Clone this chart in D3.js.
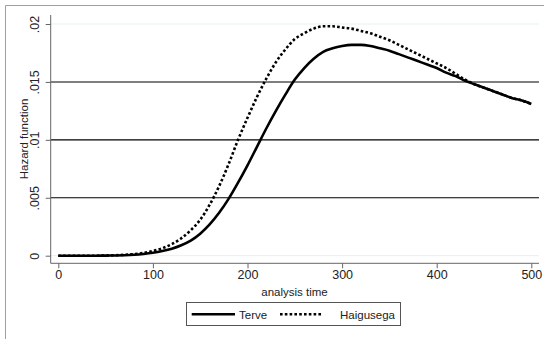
<!DOCTYPE html>
<html><head><meta charset="utf-8">
<script src="https://cdn.jsdelivr.net/npm/d3@7"></script>
<style>body{margin:0;background:#fff}svg{display:block;font-family:"Liberation Sans",Arial,sans-serif}</style>
</head><body><svg id="c" width="544" height="339"></svg>
<script>
const times = [0,10,20,30,40,50,60,70,80,90,100,110,120,130,140,150,160,170,180,190,200,210,220,230,240,250,260,270,280,290,300,310,320,330,340,350,360,370,380,390,400,410,420,430,440,450,460,470,480,490,500];
const terve = [0,0,0,0,0,0.00001,0.00002,0.00004,0.00008,0.00015,0.00025,0.0004,0.0006,0.0009,0.0013,0.0019,0.0027,0.0037,0.0049,0.0063,0.0078,0.0094,0.011,0.0125,0.0139,0.0152,0.0162,0.017,0.0176,0.0179,0.0181,0.0182,0.0182,0.0181,0.0179,0.0177,0.0174,0.0171,0.0168,0.0165,0.0162,0.0158,0.0155,0.0151,0.0148,0.0145,0.0142,0.0139,0.0136,0.0134,0.0131];
const haigusega = [0,0,0,0,0,0.00002,0.00004,0.00008,0.00014,0.00024,0.0004,0.00065,0.001,0.0015,0.0022,0.0031,0.0044,0.006,0.0079,0.01,0.0119,0.0137,0.0153,0.0167,0.0178,0.0187,0.0192,0.0196,0.0198,0.0198,0.0197,0.0196,0.0194,0.0192,0.0189,0.0186,0.0182,0.0178,0.0174,0.017,0.0166,0.0162,0.0157,0.0152,0.0148,0.0145,0.0142,0.0139,0.0136,0.0134,0.0131];
const xTicks = [0,100,200,300,400,500];
const yTicks = [0,0.005,0.01,0.015,0.02];
const yTickLabels = ["0",".005",".01",".015",".02"];
const seriesNames = ["Terve","Haigusega"];

const svg = d3.select("#c");
const x = d3.scaleLinear().domain([0,500]).range([58.3,531.3]);
const y = d3.scaleLinear().domain([0,0.02]).range([255.7,24]);
const L=50.7, R=539, T=15, B=263.3;
const FONT='"Liberation Sans",Arial,sans-serif';

// outer frame
svg.append("line").attr("x1",5.5).attr("x2",544).attr("y1",5.5).attr("y2",5.5).attr("stroke","#a0a0a0").attr("stroke-width",1);
svg.append("line").attr("x1",5.5).attr("x2",5.5).attr("y1",5.5).attr("y2",339).attr("stroke","#a0a0a0").attr("stroke-width",1);

// gridlines
svg.append("g").selectAll("line").data(yTicks).join("line")
  .attr("x1",L).attr("x2",R).attr("y1",d=>y(d)).attr("y2",d=>y(d))
  .attr("stroke",(d,i)=> (i===0||i===yTicks.length-1)?"#e6eff0":"#000")
  .attr("stroke-width",(d,i)=> (i===0||i===yTicks.length-1)?1:1.1);

// y axis
const yAxis = svg.append("g").attr("transform",`translate(${L},0)`)
  .call(d3.axisLeft(y).tickValues(yTicks).tickSize(5).tickFormat((d,i)=>yTickLabels[i]));
yAxis.select(".domain").attr("d",`M0,${T}V${B}`).attr("stroke","#666");
yAxis.selectAll(".tick line").attr("stroke","#666");
yAxis.selectAll(".tick text").attr("x",0).attr("y",0)
  .attr("dy",null).attr("text-anchor","middle")
  .attr("transform","translate(-11.8,0) rotate(-90)")
  .attr("font-size","12.5px").attr("fill","#222").attr("font-family",FONT);

// x axis
const xAxis = svg.append("g").attr("transform",`translate(0,${B})`)
  .call(d3.axisBottom(x).tickValues(xTicks).tickSize(5).tickFormat(d3.format("d")));
xAxis.select(".domain").attr("d",`M${L},0H${R}`).attr("stroke","#666");
xAxis.selectAll(".tick line").attr("stroke","#666");
xAxis.selectAll(".tick text").attr("y",7).attr("font-size","12.5px").attr("fill","#222").attr("font-family",FONT);

// axis titles
svg.append("text").attr("x",294.5).attr("y",296).attr("text-anchor","middle").attr("font-size","11.5px").attr("fill","#222").text("analysis time");
svg.append("text").attr("transform","translate(27.5,139) rotate(-90)").attr("text-anchor","middle").attr("font-size","11.5px").attr("fill","#222").text("Hazard function");

// lines
const line = (vals)=> d3.line().x((d,i)=>x(times[i])).y(d=>y(d)).curve(d3.curveMonotoneX)(vals);
svg.append("path").attr("d",line(terve)).attr("fill","none").attr("stroke","#000").attr("stroke-width",2.6);
svg.append("path").attr("d",line(haigusega)).attr("fill","none").attr("stroke","#000").attr("stroke-width",2.6).attr("stroke-dasharray","2.6,2.2");

// legend
const lg = svg.append("g");
lg.append("rect").attr("x",186.5).attr("y",302.5).attr("width",214).attr("height",23).attr("fill","#fff").attr("stroke","#555").attr("stroke-width",1);
lg.append("line").attr("x1",191.7).attr("x2",235).attr("y1",314.3).attr("y2",314.3).attr("stroke","#000").attr("stroke-width",2.6);
lg.append("text").attr("x",239).attr("y",318.5).attr("font-size","11.5px").attr("fill","#222").text(seriesNames[0]);
lg.append("line").attr("x1",280).attr("x2",322).attr("y1",314.3).attr("y2",314.3).attr("stroke","#000").attr("stroke-width",2.6).attr("stroke-dasharray","2.6,2.2");
lg.append("text").attr("x",340).attr("y",318.5).attr("font-size","11.5px").attr("fill","#222").text(seriesNames[1]);
</script></body></html>
